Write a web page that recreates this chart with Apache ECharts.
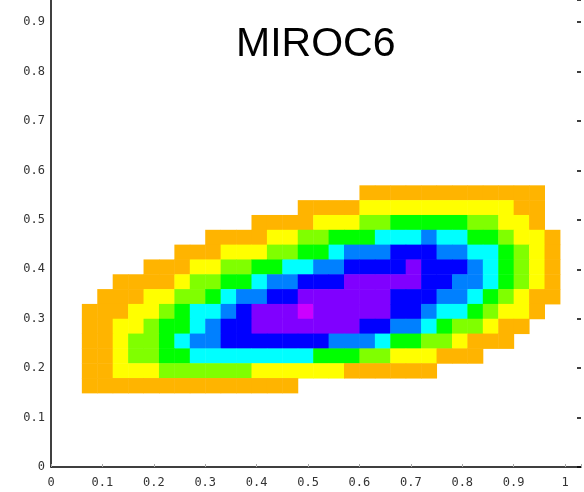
<!DOCTYPE html>
<html>
<head>
<meta charset="utf-8">
<script src="https://cdn.jsdelivr.net/npm/echarts@6/dist/echarts.min.js"></script>
<style>
  html, body { margin: 0; padding: 0; background: #fff; }
  #chart { width: 584px; height: 492px; }
</style>
</head>
<body>
<div id="chart"></div>
<script>
// cell size in data units (both axes)
const cellSize = 0.03;

// colour for each level: 1 orange ... 9 magenta
const levelColors = ['#ffffff', '#ffb400', '#ffff00', '#80ff00', '#00ff00',
                     '#00ffff', '#0080ff', '#0000ff', '#8000ff', '#cc00ff'];

// rows of cells: [row index j, first column index i, levels from left to right]
const rows = [
    [18, 20, [1,1,1,1,1,1,1,1,1,1,1,1]],
    [17, 16, [1,1,1,1,2,2,2,2,2,2,2,2,2,2,1,1]],
    [16, 13, [1,1,1,1,2,2,2,3,3,4,4,4,4,4,3,3,2,2,1]],
    [15, 10, [1,1,1,1,2,2,3,3,4,4,4,5,5,5,6,5,5,4,4,3,2,2,1]],
    [14, 8,  [1,1,1,2,2,2,3,3,4,4,5,6,6,6,7,7,7,6,6,5,5,4,3,2,1]],
    [13, 6,  [1,1,1,2,2,3,3,4,4,5,5,6,6,7,7,7,7,8,7,7,7,6,5,4,3,2,1]],
    [12, 4,  [1,1,1,1,2,3,3,4,4,5,6,6,7,7,7,8,8,8,8,8,7,7,6,6,5,4,3,2,1]],
    [11, 3,  [1,1,1,2,2,3,3,4,5,6,6,7,7,8,8,8,8,8,8,7,7,7,6,6,5,4,3,2,1,1]],
    [10, 2,  [1,1,1,2,2,3,4,5,5,6,7,8,8,8,9,8,8,8,8,8,7,7,6,5,5,4,3,2,2,1]],
    [9,  2,  [1,1,2,2,3,4,4,5,6,7,7,8,8,8,8,8,8,8,7,7,6,6,5,4,3,3,2,1,1]],
    [8,  2,  [1,1,2,3,3,4,5,6,6,7,7,7,7,7,7,7,6,6,6,5,4,4,3,3,2,1,1,1]],
    [7,  2,  [1,1,2,3,3,4,4,5,5,5,5,5,5,5,5,4,4,4,3,3,2,2,2,1,1,1]],
    [6,  2,  [1,1,2,2,2,3,3,3,3,3,3,2,2,2,2,2,2,1,1,1,1,1,1]],
    [5,  2,  [1,1,1,1,1,1,1,1,1,1,1,1,1,1]]
];

const tickValues = [0, 0.1, 0.2, 0.3, 0.4, 0.5, 0.6, 0.7, 0.8, 0.9, 1];

const cells = [];
rows.forEach(function (r) {
    r[2].forEach(function (level, k) {
        cells.push([(r[1] + k) * cellSize, r[0] * cellSize, level]);
    });
});

function tickLabel(v) {
    for (let t of tickValues) {
        if (Math.abs(v - t) < 1e-6) return String(t);
    }
    return '';
}

const chart = echarts.init(document.getElementById('chart'));

const labelFont = {
    fontFamily: 'DejaVu Sans Mono',
    fontSize: 12,
    color: '#333'
};

chart.setOption({
    animation: false,
    title: {
        text: 'MIROC6',
        left: 236,
        top: 24,
        padding: 0,
        textStyle: {
            fontFamily: 'Liberation Sans, Arial',
            fontSize: 41,
            fontWeight: 'normal',
            color: '#000'
        }
    },
    grid: { left: 51, right: 0, top: 0, bottom: 25 },
    xAxis: {
        type: 'value',
        min: 0,
        max: 1.031,
        interval: 0.1,
        splitLine: { show: false },
        axisLine: { lineStyle: { color: '#000', width: 1.5 } },
        axisTick: { inside: true, length: 3, lineStyle: { color: '#aaa' } },
        axisLabel: Object.assign({ margin: 10, formatter: tickLabel }, labelFont)
    },
    yAxis: [
        {
            type: 'value',
            min: 0,
            max: 0.945,
            interval: 0.1,
            splitLine: { show: false },
            axisLine: { show: true, lineStyle: { color: '#000', width: 1.5 } },
            axisTick: { show: false },
            axisLabel: Object.assign({ margin: 6, padding: [7, 0, 0, 0], formatter: tickLabel }, labelFont)
        },
        {
            type: 'value',
            position: 'right',
            min: 0,
            max: 0.945,
            interval: 0.1,
            splitLine: { show: false },
            axisLine: { show: false },
            axisTick: { inside: true, length: 4, lineStyle: { color: '#000', width: 1.5 } },
            axisLabel: { show: false }
        }
    ],
    series: [{
        type: 'custom',
        xAxisIndex: 0,
        yAxisIndex: 0,
        data: cells,
        renderItem: function (params, api) {
            const x0 = api.value(0);
            const y0 = api.value(1);
            const p0 = api.coord([x0, y0 + cellSize]);
            const p1 = api.coord([x0 + cellSize, y0]);
            return {
                type: 'rect',
                shape: {
                    x: p0[0],
                    y: p0[1],
                    width: p1[0] - p0[0] + 0.5,
                    height: p1[1] - p0[1] + 0.5
                },
                style: { fill: levelColors[api.value(2)] }
            };
        }
    }]
});
</script>
</body>
</html>
